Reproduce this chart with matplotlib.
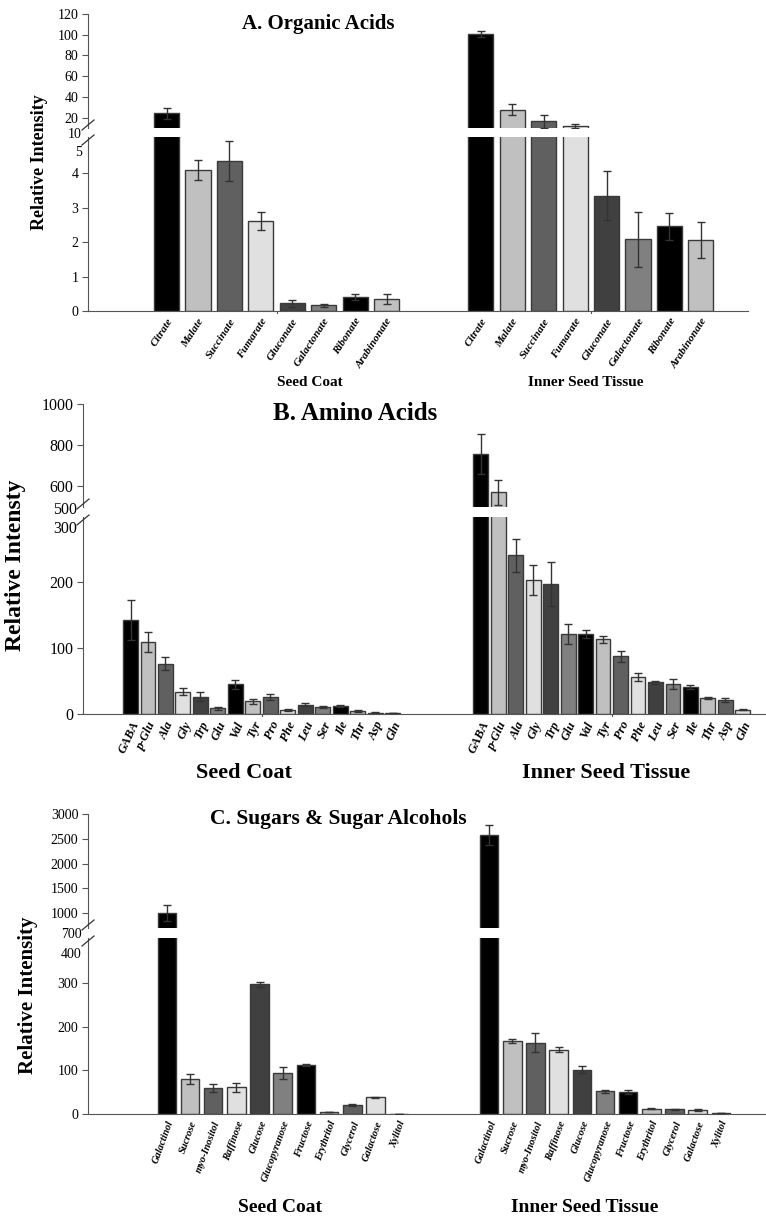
import numpy as np
import matplotlib
matplotlib.use('Agg')
import matplotlib.pyplot as plt
from matplotlib.lines import Line2D

plt.rcParams['font.family'] = ['Liberation Serif', 'DejaVu Serif']

# ---- data -------------------------------------------------------------
acids = ['Citrate', 'Malate', 'Succinate', 'Fumarate', 'Gluconate',
         'Galactonate', 'Ribonate', 'Arabinonate']
acids_coat = [24, 4.1, 4.35, 2.62, 0.22, 0.17, 0.40, 0.34]
acids_coat_err = [5.5, 0.29, 0.58, 0.26, 0.10, 0.04, 0.09, 0.14]
acids_inner = [101, 27.8, 16.4, 12.0, 3.35, 2.08, 2.46, 2.06]
acids_inner_err = [3, 5.5, 6, 2, 0.71, 0.80, 0.39, 0.51]

amino = ['GABA', 'p-Glu', 'Ala', 'Gly', 'Trp', 'Glu', 'Val', 'Tyr', 'Pro',
         'Phe', 'Leu', 'Ser', 'Ile', 'Thr', 'Asp', 'Gln']
amino_coat = [142, 109, 76, 34, 26, 8.5, 45, 19, 25, 6.5, 14, 10, 12, 4.5, 2, 1.5]
amino_coat_err = [30, 14.5, 10, 5.5, 7, 2.5, 6.5, 3.5, 4.5, 1.5, 2, 1.5, 1.5, 1, 0.5, 0.3]
amino_inner = [757, 571, 240, 203, 197, 121, 121, 113, 87, 56, 48, 45.5, 41, 24, 21, 6.5]
amino_inner_err = [98, 60, 25, 23, 33, 15, 6.5, 5, 8, 6, 2.5, 8, 2.5, 2, 2.5, 0.8]

sugars = ['Galactinol', 'Sucrose', 'myo-Inositol', 'Raffinose', 'Glucose',
          'Glucopyranose', 'Fructose', 'Erythritol', 'Glycerol', 'Galactose', 'Xylitol']
sugars_coat = [1000, 80, 60, 61, 298, 94, 113, 4, 21, 38, 0.5]
sugars_coat_err = [160, 12, 9.5, 10, 6, 13, 2, 0.5, 1.5, 1.5, 0.2]
sugars_inner = [2570, 168, 164, 148, 102, 52, 51, 12, 11, 9, 2.5]
sugars_inner_err = [200, 5, 21, 5, 9, 3, 5, 1, 1, 1.5, 0.5]

shades = ['#000000', '#c0c0c0', '#606060', '#e0e0e0', '#404040', '#808080']

W, H = 766, 1222
fig = plt.figure(figsize=(W / 100, H / 100), dpi=100)


def box(x0, y0, x1, y1):
    return [x0 / W, 1 - y1 / H, (x1 - x0) / W, (y1 - y0) / H]


def panel(x0, x1, top_y, bot_y, nslots, starts, names, groups, width,
          top_lim, top_ticks, bot_lim, bot_ticks, extra, ytick_size,
          xtick_size, rot, minor):
    ax_t = fig.add_axes(box(x0, top_y[0], x1, top_y[1]))
    ax_b = fig.add_axes(box(x0, bot_y[0], x1, bot_y[1]))
    n = len(names)
    cols = [shades[i % 6] for i in range(n)]
    for ax in (ax_t, ax_b):
        for s, (vals, errs) in zip(starts, groups):
            x = s + 0.5 + np.arange(n)
            ax.bar(x, vals, width=width, color=cols, edgecolor='#3a3a3a',
                   linewidth=1.0, zorder=2)
            ax.errorbar(x, vals, yerr=errs, fmt='none', ecolor='#333333',
                        elinewidth=1.0, capsize=3, capthick=1.0, zorder=3)
        ax.set_xlim(0, nslots)
        for sp in ('top', 'right'):
            ax.spines[sp].set_visible(False)
        ax.spines['left'].set_color('#555555')
        ax.spines['bottom'].set_color('#555555')
        ax.tick_params(axis='y', direction='out', length=4, color='#555555',
                       labelsize=ytick_size, pad=3)
    ax_t.set_ylim(*top_lim)
    ax_t.set_yticks(top_ticks)
    ax_t.spines['bottom'].set_visible(False)
    ax_t.set_xticks([])
    ax_b.set_ylim(*bot_lim)
    ax_b.set_yticks(bot_ticks)
    xt = np.concatenate([s + 0.5 + np.arange(n) for s in starts])
    ax_b.set_xticks(xt)
    ax_b.set_xticklabels(names * len(starts), rotation=rot, ha='right',
                         rotation_mode='anchor', fontsize=xtick_size,
                         fontweight='bold', fontstyle='italic')
    ax_b.tick_params(axis='x', length=0, pad=4)
    for m in minor:
        ax_b.plot([m, m], [0, -0.012], transform=ax_b.get_xaxis_transform(),
                  color='#555555', lw=0.8, clip_on=False)
    # labels for the break ends
    for lab, v in extra:
        ax_b.text(-0.009, v, lab, transform=ax_b.get_yaxis_transform(),
                  ha='right', va='center', fontsize=ytick_size, clip_on=False)
    # break marks
    for yy in (top_y[1] - 3, bot_y[0] + 3):
        fig.add_artist(Line2D([(x0 - 6) / W, (x0 + 6) / W],
                              [1 - (yy + 5) / H, 1 - (yy - 5) / H],
                              color='#333333', lw=0.9))
    return ax_t, ax_b


# ---- A. Organic acids ---------------------------------------------------
panel(88, 748, (14, 128), (137, 311), 21, [2, 12], acids,
      [(acids_coat, acids_coat_err), (acids_inner, acids_inner_err)], 0.8,
      (10, 120), [20, 40, 60, 80, 100, 120], (0, 5.05), [0, 1, 2, 3, 4],
      [('5', 4.6), ('10', 5.12)], 10, 8, 57, [6, 16])
fig.text(318 / W, 1 - 24 / H, 'A. Organic Acids', ha='center', va='center',
         fontsize=15, fontweight='bold')
fig.text(40 / W, 1 - 162 / H, 'Relative Intensity', ha='center', va='center',
         rotation=90, fontsize=13, fontweight='bold')
fig.text(310 / W, 1 - 382 / H, 'Seed Coat', ha='center', va='center',
         fontsize=11, fontweight='bold')
fig.text(586 / W, 1 - 382 / H, 'Inner Seed Tissue', ha='center', va='center',
         fontsize=11, fontweight='bold')

# ---- B. Amino acids -----------------------------------------------------
panel(83, 765, (404, 507), (517, 714), 39.04, [2.22, 22.27], amino,
      [(amino_coat, amino_coat_err), (amino_inner, amino_inner_err)], 0.85,
      (500, 1000), [600, 800, 1000], (0, 298), [0, 100, 200],
      [('300', 280), ('500', 308)], 11.5, 9, 65, [10.22, 30.27])
fig.text(355 / W, 1 - 414 / H, 'B. Amino Acids', ha='center', va='center',
         fontsize=18, fontweight='bold')
fig.text(16 / W, 1 - 565 / H, 'Relative Intensty', ha='center', va='center',
         rotation=90, fontsize=17, fontweight='bold')
fig.text(244 / W, 1 - 773 / H, 'Seed Coat', ha='center', va='center',
         fontsize=16, fontweight='bold')
fig.text(606 / W, 1 - 773 / H, 'Inner Seed Tissue', ha='center', va='center',
         fontsize=16, fontweight='bold')

# ---- C. Sugars ------------------------------------------------------------
panel(88, 765, (814, 928), (938, 1114), 29.2, [2.9, 16.8], sugars,
      [(sugars_coat, sugars_coat_err), (sugars_inner, sugars_inner_err)], 0.8,
      (700, 3000), [1000, 1500, 2000, 2500, 3000], (0, 404), [0, 100, 200, 300],
      [('400', 365), ('700', 411)], 10, 7.5, 70, [])
fig.text(338 / W, 1 - 819 / H, 'C. Sugars & Sugar Alcohols', ha='center',
         va='center', fontsize=15.5, fontweight='bold')
fig.text(28 / W, 1 - 995 / H, 'Relative Intensity', ha='center', va='center',
         rotation=90, fontsize=15, fontweight='bold')
fig.text(280 / W, 1 - 1208 / H, 'Seed Coat', ha='center', va='center',
         fontsize=14, fontweight='bold')
fig.text(585 / W, 1 - 1208 / H, 'Inner Seed Tissue', ha='center', va='center',
         fontsize=14, fontweight='bold')

fig.savefig('out.png', dpi=100)
